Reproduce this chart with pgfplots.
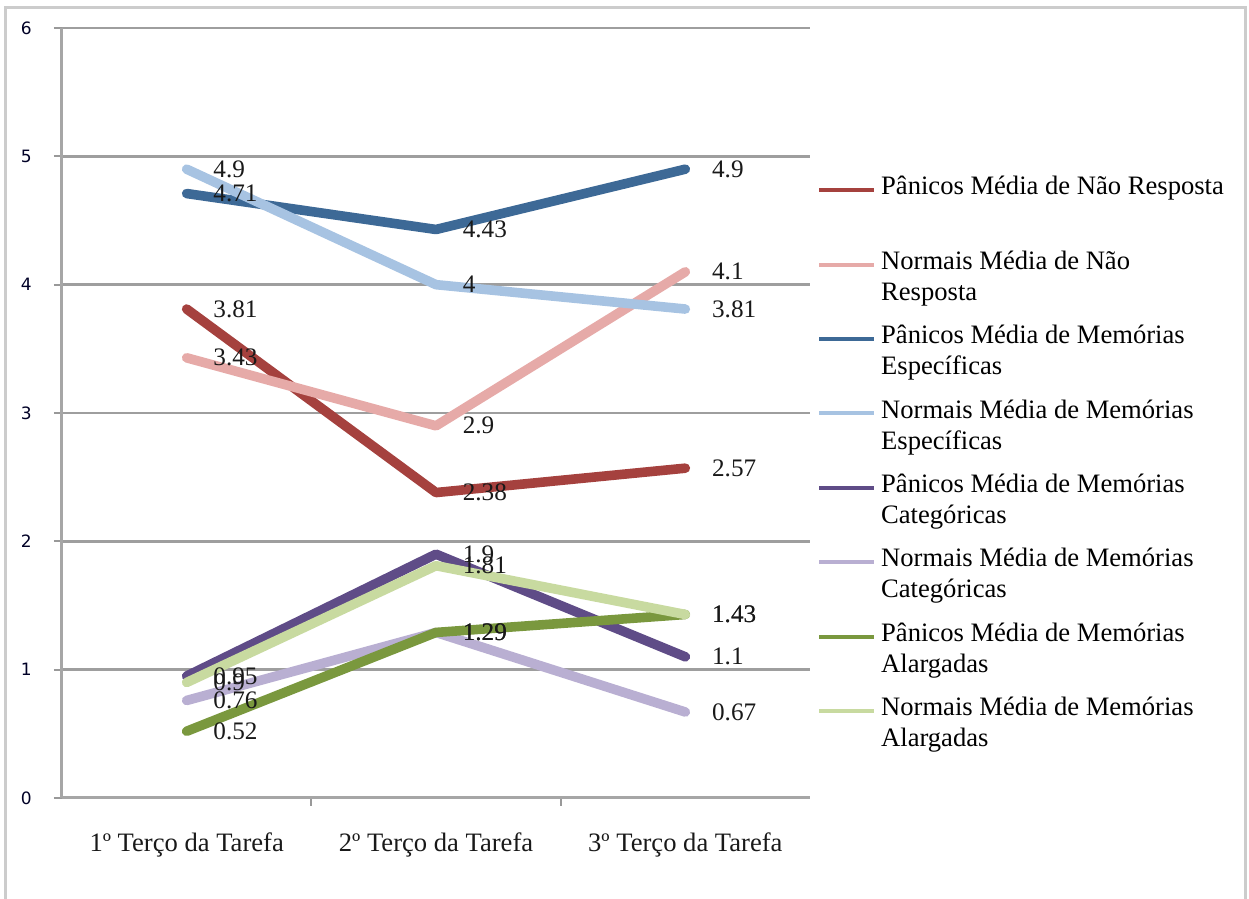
\documentclass[border=0pt]{standalone}
\usepackage{fontspec}
\setmainfont{Liberation Serif}
\newfontfamily\tickfont{DejaVu Sans}
\usepackage{pgfplots}
\pgfplotsset{compat=1.18}
\definecolor{cPNR}{RGB}{165,65,62}
\definecolor{cNNR}{RGB}{230,170,168}
\definecolor{cPME}{RGB}{61,105,150}
\definecolor{cNME}{RGB}{167,195,226}
\definecolor{cPMC}{RGB}{95,76,135}
\definecolor{cNMC}{RGB}{185,175,210}
\definecolor{cPMA}{RGB}{122,152,62}
\definecolor{cNMA}{RGB}{200,218,160}
\newcommand{\lent}[2]{\parbox[t]{185pt}{\fontsize{13.3}{15.5}\selectfont\raggedright\strut #1\\\strut #2}}
\begin{document}
\begin{tikzpicture}
\useasboundingbox (-31pt,-50.5pt) rectangle (593.5pt,399pt);
\draw[black!20, line width=1.5pt] (-28pt,-52pt) -- (-28pt,395pt) -- (591.5pt,395pt) -- (591.5pt,-52pt);
\begin{axis}[
  at={(0,0)}, anchor=south west,
  scale only axis, width=374pt, height=385pt,
  xmin=-0.5, xmax=2.5, ymin=0, ymax=6,
  axis lines*=left,
  clip=false,
  /pgf/number format/assume math mode=true,
  xtick={0,1,2},
  xticklabels={1º Terço da Tarefa, 2º Terço da Tarefa, 3º Terço da Tarefa},
  major x tick style={draw=none},
  minor xtick={0.5,1.5},
  ytick={0,1,2,3,4,5,6},
  tick align=outside,
  major tick length=4pt, minor tick length=4pt,
  tick style={black!40, line width=1pt},
  ymajorgrids, grid style={black!38, line width=1.2pt},
  axis line style={black!35, line width=1.5pt},
  xticklabel style={font=\fontsize{13.3}{15.5}\selectfont, anchor=base, inner sep=0pt, yshift=-23pt, text=black!90},
  yticklabel style={font=\tickfont\fontsize{8.5}{10}\selectfont, anchor=east, inner sep=0pt, xshift=-11pt, text=black!85!blue},
  legend style={at={(1.0053,0.812)}, anchor=north west, draw=none, fill=none, inner sep=0pt, row sep=6.2pt, column sep=2.5pt, nodes={inner sep=0pt, text depth={}}},
  legend cell align=left,
  legend image code/.code={\path (0pt,0pt); \draw[#1, line width=2pt, line cap=butt] (0pt,7pt) -- (27.5pt,7pt);},
  every axis plot/.append style={line width=4.8pt, line cap=round, line join=round},
  label plot/.style={draw=none, mark=none, forget plot,
    nodes near coords={\pgfmathprintnumber[assume math mode=true]{\pgfplotspointmeta}},
    nodes near coords align=horizontal,
    every node near coord/.append style={anchor=west, inner sep=0pt, xshift=11pt, font=\fontsize{12.6}{14}\selectfont, text=black!90}},
]
\addplot[cPNR] coordinates {(0,3.81) (1,2.38) (2,2.57)};
\addlegendentry{\lent{Pânicos Média de Não Resposta}{}}
\addplot[cNNR] coordinates {(0,3.43) (1,2.9) (2,4.1)};
\addlegendentry{\lent{Normais Média de Não}{Resposta}}
\addplot[cPME] coordinates {(0,4.71) (1,4.43) (2,4.9)};
\addlegendentry{\lent{Pânicos Média de Memórias}{Específicas}}
\addplot[cNME] coordinates {(0,4.9) (1,4) (2,3.81)};
\addlegendentry{\lent{Normais Média de Memórias}{Específicas}}
\addplot[cPMC] coordinates {(0,0.95) (1,1.9) (2,1.1)};
\addlegendentry{\lent{Pânicos Média de Memórias}{Categóricas}}
\addplot[cNMC] coordinates {(0,0.76) (1,1.29) (2,0.67)};
\addlegendentry{\lent{Normais Média de Memórias}{Categóricas}}
\addplot[cPMA] coordinates {(0,0.52) (1,1.29) (2,1.43)};
\addlegendentry{\lent{Pânicos Média de Memórias}{Alargadas}}
\addplot[cNMA] coordinates {(0,0.9) (1,1.81) (2,1.43)};
\addlegendentry{\lent{Normais Média de Memórias}{Alargadas}}
\addplot[label plot] coordinates {(0,3.81) (1,2.38) (2,2.57)};
\addplot[label plot] coordinates {(0,3.43) (1,2.9) (2,4.1)};
\addplot[label plot] coordinates {(0,4.71) (1,4.43) (2,4.9)};
\addplot[label plot] coordinates {(0,4.9) (1,4) (2,3.81)};
\addplot[label plot] coordinates {(0,0.95) (1,1.9) (2,1.1)};
\addplot[label plot] coordinates {(0,0.76) (1,1.29) (2,0.67)};
\addplot[label plot] coordinates {(0,0.52) (1,1.29) (2,1.43)};
\addplot[label plot] coordinates {(0,0.9) (1,1.81) (2,1.43)};
\end{axis}
\end{tikzpicture}
\end{document}
